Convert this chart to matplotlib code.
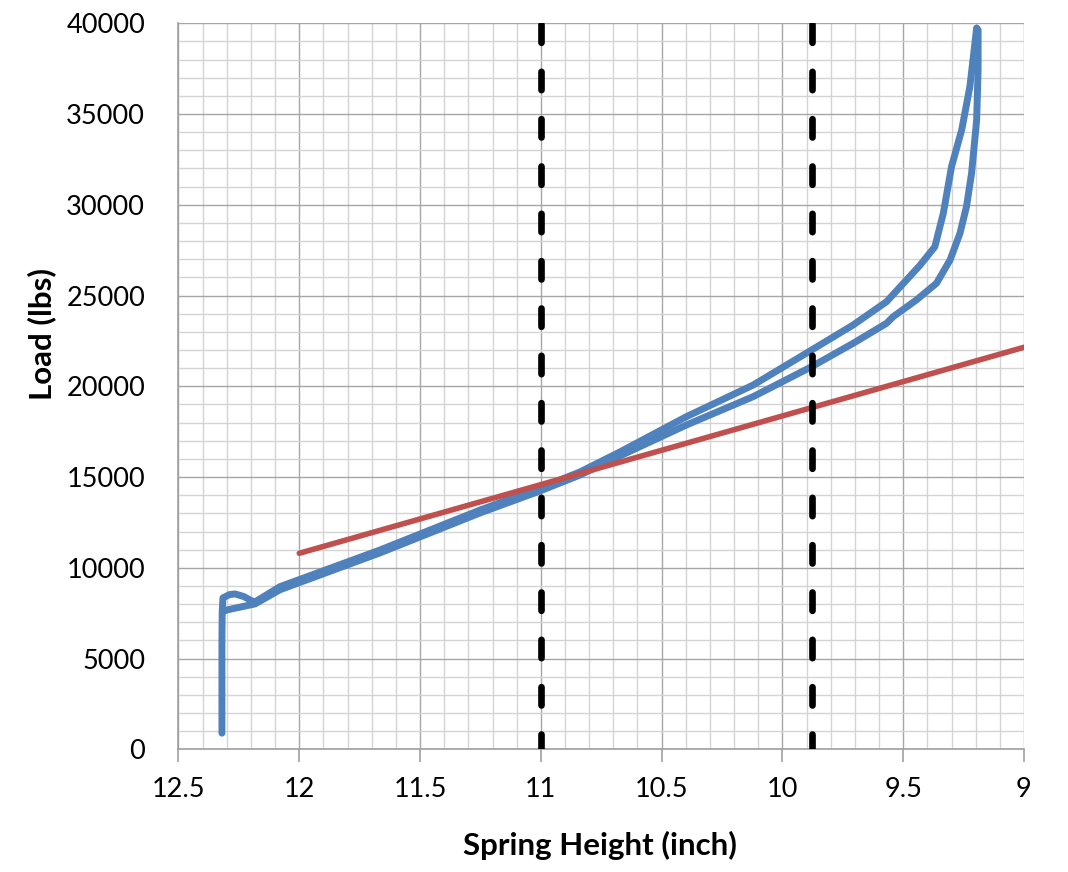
import matplotlib.pyplot as plt
import numpy as np
from matplotlib.ticker import MultipleLocator

# spring compression test, load vs height
load_h = [12.32, 12.32, 12.319, 12.316, 12.29, 12.266, 12.23, 12.2, 12.183,
          12.08, 11.666, 11.252, 11.004, 10.838, 10.673, 10.397, 10.121,
          9.879, 9.707, 9.569, 9.431, 9.369, 9.334, 9.30, 9.258, 9.224, 9.196]
load_lb = [890, 6020, 7570, 8340, 8520, 8560, 8420, 8200, 8120,
           8960, 10980, 13180, 14400, 15280, 16380, 18330, 20070,
           22000, 23380, 24660, 26660, 27690, 29530, 32100, 34120, 36510, 39730]

unload_h = [9.196, 9.190, 9.190, 9.196, 9.217, 9.238, 9.265, 9.306, 9.362,
            9.445, 9.541, 9.569, 9.707, 9.879, 10.121, 10.397, 10.673, 10.838,
            11.004, 11.252, 11.666, 12.08, 12.183, 12.299, 12.318]
unload_lb = [39730, 39630, 37430, 34670, 31740, 29900, 28430, 26960, 25680,
             24760, 23840, 23470, 22370, 21080, 19430, 17870, 16160, 15110,
             14230, 13020, 10820, 8790, 8010, 7680, 7570]

# linear fit line
fit_h = [12.0, 9.0]
fit_lb = [10800, 22150]

# dashed markers
mark_h = [11.0, 9.878]

xticks = [12.5, 12, 11.5, 11, 10.5, 10, 9.5, 9]
xtick_labels = ["12.5", "12", "11.5", "11", "10.5", "10", "9.5", "9"]
yticks = [0, 5000, 10000, 15000, 20000, 25000, 30000, 35000, 40000]

plt.rcParams['font.family'] = ['Lato', 'DejaVu Sans']

fig = plt.figure(figsize=(10.68, 8.72), dpi=100)
ax = fig.add_axes([0.1671, 0.1407, 0.7917, 0.8326])

ax.set_xlim(12.5, 9)
ax.set_ylim(0, 40000)
ax.set_xticks(xticks)
ax.set_xticklabels(xtick_labels)
ax.set_yticks(yticks)
ax.set_yticklabels([str(v) for v in yticks])
ax.xaxis.set_minor_locator(MultipleLocator(0.1))
ax.yaxis.set_minor_locator(MultipleLocator(1000))

ax.grid(which='minor', color='#d4d4d4', lw=1.0, zorder=0)
ax.grid(which='major', color='#a6a6a6', lw=1.0, zorder=0)
ax.set_axisbelow(True)

for s in ['top', 'right']:
    ax.spines[s].set_visible(False)
for s in ['left', 'bottom']:
    ax.spines[s].set_color('#a0a0a0')
    ax.spines[s].set_linewidth(1.2)

ax.tick_params(axis='x', which='major', length=9, width=1.2, color='#a0a0a0',
               labelsize=19.5, pad=11)
ax.tick_params(axis='y', which='major', length=0, labelsize=19.5, pad=24)
ax.tick_params(which='minor', length=0)

ax.plot(load_h, load_lb, color='#4f81bd', lw=5.0, solid_capstyle='round',
        solid_joinstyle='round', zorder=3)
ax.plot(unload_h, unload_lb, color='#4f81bd', lw=5.0, solid_capstyle='round',
        solid_joinstyle='round', zorder=3)
ax.plot(fit_h, fit_lb, color='#c0504d', lw=4.0, solid_capstyle='round', zorder=4)

for h in mark_h:
    ax.plot([h, h], [0, 40000], color='black', lw=4.8, linestyle=(0.5, (2.75, 4.35)),
            dash_capstyle='round', zorder=5)

ax.set_xlabel('Spring Height (inch)', fontsize=22.5, fontweight='bold')
ax.set_ylabel('Load (lbs)', fontsize=22.5, fontweight='bold')
ax.xaxis.set_label_coords(0.4985, -0.112)
ax.yaxis.set_label_coords(-0.145, 0.572)

plt.savefig('out.png', dpi=100)
